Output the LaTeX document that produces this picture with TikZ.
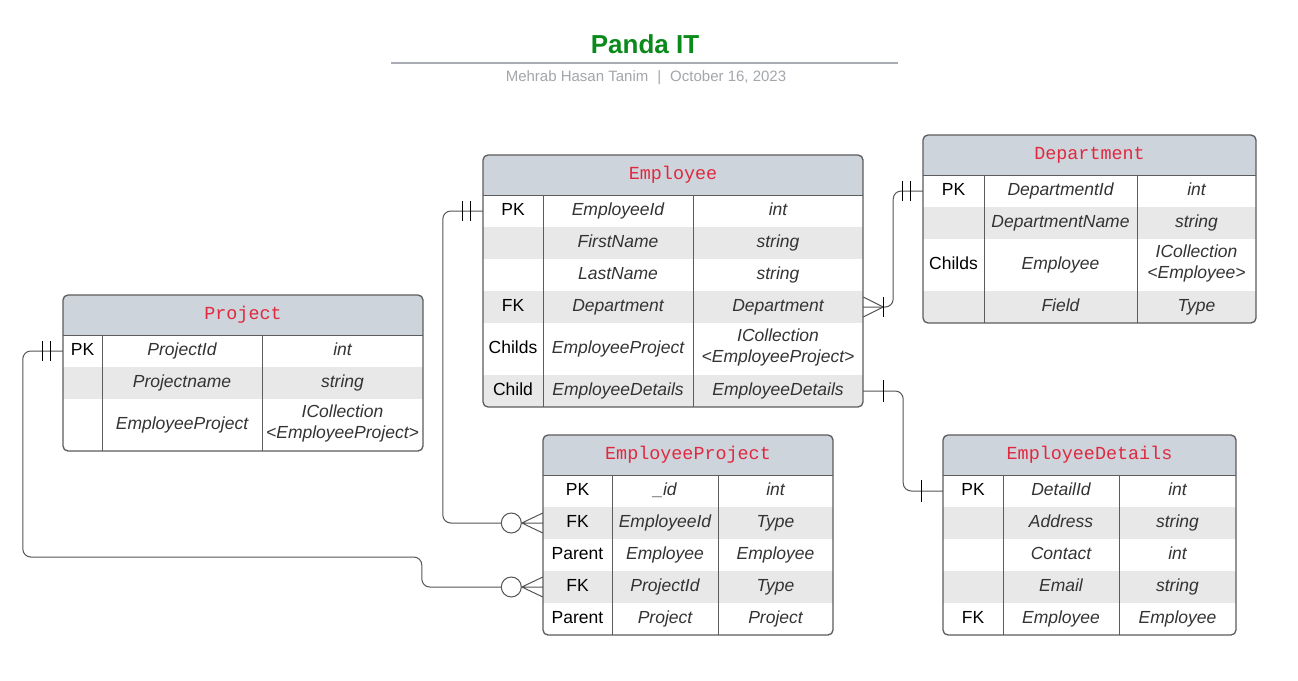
\documentclass[tikz,border=0pt]{standalone}
\usepackage{fontspec}
\setmainfont{Liberation Sans}
\setmonofont{Liberation Mono}
\usetikzlibrary{positioning}

\definecolor{hdrfill}{HTML}{CED4DC}
\definecolor{rowgray}{HTML}{E8E8E8}
\definecolor{frameclr}{HTML}{5C5C5C}
\definecolor{ttlred}{HTML}{E0283E}
\definecolor{titlegreen}{HTML}{0B8A1C}
\definecolor{subgray}{HTML}{A3A6AB}
\definecolor{rulegray}{HTML}{A9ADB3}
\definecolor{fldtxt}{HTML}{333333}
\definecolor{relclr}{HTML}{555555}

\newcommand{\cellfont}{\fontsize{17.5}{21}\selectfont}

\begin{document}
\begin{tikzpicture}[
    x=1pt, y=-1pt,
    tbl/.style={draw=frameclr, line width=1.3pt, rounded corners=5pt},
    grid/.style={draw=frameclr, line width=1pt},
    ttl/.style={font=\ttfamily\fontsize{18.4}{20}\selectfont, text=ttlred},
    cell/.style 2 args={minimum width=#1, minimum height=#2, inner sep=0pt, align=center, font=\cellfont,
        execute at begin node=\strut, execute at end node=\strut},
    keyc/.style={text=black},
    fldc/.style={text=fldtxt, font=\cellfont\itshape},
    rel/.style={draw=relclr, line width=1pt, rounded corners=8pt},
    crow/.style={draw=relclr, line width=1pt},
    bar/.style={draw=black, line width=1pt},
    zero/.style={circle, draw=relclr, fill=white, line width=1pt, minimum size=20pt, inner sep=0pt}
]
    \fill[white] (0,0) rectangle (1298,680);
    \useasboundingbox (0,0) rectangle (1298,680);

    % title block
    \node[font=\bfseries\fontsize{26}{30}\selectfont, text=titlegreen] (title) at (645,44) {Panda IT};
    \draw[draw=rulegray, line width=2pt] (391,63) -- (898,63);
    \node[font=\fontsize{15}{18}\selectfont, text=subgray] (byline) at (646,78) {Mehrab Hasan Tanim\hspace{9pt}|\hspace{9pt}October 16, 2023};

    % Employee
    \begin{scope}
        \clip[rounded corners=5pt] (483,155) rectangle (863,407);
        \fill[hdrfill] (483,155) rectangle (863,195);
        \foreach \y/\h/\sh/\ky/\fd/\tp [count=\i] in {
            211/32/white/PK/EmployeeId/int,
            243/32/rowgray//FirstName/string,
            275/32/white//LastName/string,
            307/32/rowgray/FK/Department/Department,
            349/52/white/Childs/EmployeeProject/{ICollection\\<EmployeeProject>},
            391/32/rowgray/Child/EmployeeDetails/EmployeeDetails} {
            \node[cell={60}{\h}, fill=\sh, keyc] (emp-k\i) at (513,\y) {\ky};
            \node[cell={150}{\h}, fill=\sh, fldc] (emp-f\i) at (618,\y) {\fd};
            \node[cell={170}{\h}, fill=\sh, fldc] (emp-t\i) at (778,\y) {\tp};
        }
    \end{scope}
    \draw[tbl] (483,155) rectangle (863,407);
    \draw[grid] (483,195) -- (863,195) (543,195) -- (543,407) (693,195) -- (693,407);
    \node[ttl] (emp) at (673,175) {Employee};

    % Department
    \begin{scope}
        \clip[rounded corners=5pt] (923,135) rectangle (1256,323);
        \fill[hdrfill] (923,135) rectangle (1256,175);
        \foreach \y/\h/\sh/\ky/\fd/\tp [count=\i] in {
            191/32/white/PK/DepartmentId/int,
            223/32/rowgray//DepartmentName/string,
            265/52/white/Childs/Employee/{ICollection\\<Employee>},
            307/32/rowgray//Field/Type} {
            \node[cell={61}{\h}, fill=\sh, keyc] (dep-k\i) at (953.5,\y) {\ky};
            \node[cell={153}{\h}, fill=\sh, fldc] (dep-f\i) at (1060.5,\y) {\fd};
            \node[cell={119}{\h}, fill=\sh, fldc] (dep-t\i) at (1196.5,\y) {\tp};
        }
    \end{scope}
    \draw[tbl] (923,135) rectangle (1256,323);
    \draw[grid] (923,175) -- (1256,175) (984,175) -- (984,323) (1137,175) -- (1137,323);
    \node[ttl] (dep) at (1089.5,155) {Department};

    % Project
    \begin{scope}
        \clip[rounded corners=5pt] (63,295) rectangle (423,451);
        \fill[hdrfill] (63,295) rectangle (423,335);
        \foreach \y/\h/\sh/\ky/\fd/\tp [count=\i] in {
            351/32/white/PK/ProjectId/int,
            383/32/rowgray//Projectname/string,
            425/52/white//EmployeeProject/{ICollection\\<EmployeeProject>}} {
            \node[cell={39}{\h}, fill=\sh, keyc] (prj-k\i) at (82.5,\y) {\ky};
            \node[cell={160}{\h}, fill=\sh, fldc] (prj-f\i) at (182,\y) {\fd};
            \node[cell={161}{\h}, fill=\sh, fldc] (prj-t\i) at (342.5,\y) {\tp};
        }
    \end{scope}
    \draw[tbl] (63,295) rectangle (423,451);
    \draw[grid] (63,335) -- (423,335) (102,335) -- (102,451) (262,335) -- (262,451);
    \node[ttl] (prj) at (243,315) {Project};

    % EmployeeProject
    \begin{scope}
        \clip[rounded corners=5pt] (543,435) rectangle (833,635);
        \fill[hdrfill] (543,435) rectangle (833,475);
        \foreach \y/\h/\sh/\ky/\fd/\tp [count=\i] in {
            491/32/white/PK/\_id/int,
            523/32/rowgray/FK/EmployeeId/Type,
            555/32/white/Parent/Employee/Employee,
            587/32/rowgray/FK/ProjectId/Type,
            619/32/white/Parent/Project/Project} {
            \node[cell={69}{\h}, fill=\sh, keyc] (eprj-k\i) at (577.5,\y) {\ky};
            \node[cell={106}{\h}, fill=\sh, fldc] (eprj-f\i) at (665,\y) {\fd};
            \node[cell={115}{\h}, fill=\sh, fldc] (eprj-t\i) at (775.5,\y) {\tp};
        }
    \end{scope}
    \draw[tbl] (543,435) rectangle (833,635);
    \draw[grid] (543,475) -- (833,475) (612,475) -- (612,635) (718,475) -- (718,635);
    \node[ttl] (eprj) at (688,455) {EmployeeProject};

    % EmployeeDetails
    \begin{scope}
        \clip[rounded corners=5pt] (943,435) rectangle (1236,635);
        \fill[hdrfill] (943,435) rectangle (1236,475);
        \foreach \y/\h/\sh/\ky/\fd/\tp [count=\i] in {
            491/32/white/PK/DetailId/int,
            523/32/rowgray//Address/string,
            555/32/white//Contact/int,
            587/32/rowgray//Email/string,
            619/32/white/FK/Employee/Employee} {
            \node[cell={60}{\h}, fill=\sh, keyc] (edt-k\i) at (973,\y) {\ky};
            \node[cell={116}{\h}, fill=\sh, fldc] (edt-f\i) at (1061,\y) {\fd};
            \node[cell={117}{\h}, fill=\sh, fldc] (edt-t\i) at (1177.5,\y) {\tp};
        }
    \end{scope}
    \draw[tbl] (943,435) rectangle (1236,635);
    \draw[grid] (943,475) -- (1236,475) (1003,475) -- (1003,635) (1119,475) -- (1119,635);
    \node[ttl] (edt) at (1089.5,455) {EmployeeDetails};

    % Employee -> EmployeeProject (one to zero-or-many)
    \node[zero, left=21pt of eprj-k2.west] (eprj-o2) {};
    \draw[rel] (emp-k1.west) -- ++(-40,0) |- (eprj-o2.west);
    \draw[bar] ([xshift=-12pt]emp-k1.west) ++(0,-10) -- ++(0,20);
    \draw[bar] ([xshift=-20pt]emp-k1.west) ++(0,-10) -- ++(0,20);
    \draw[crow] (eprj-o2.east) -- ([yshift=10pt]eprj-k2.west)
                (eprj-o2.east) -- (eprj-k2.west)
                (eprj-o2.east) -- ([yshift=-10pt]eprj-k2.west);

    % Project -> EmployeeProject (one to zero-or-many)
    \node[zero, left=21pt of eprj-k4.west] (eprj-o4) {};
    \draw[rel] (prj-k1.west) -- ++(-40,0) |- ([xshift=-79pt, yshift=30pt]eprj-o4.west) |- (eprj-o4.west);
    \draw[bar] ([xshift=-12pt]prj-k1.west) ++(0,-10) -- ++(0,20);
    \draw[bar] ([xshift=-20pt]prj-k1.west) ++(0,-10) -- ++(0,20);
    \draw[crow] (eprj-o4.east) -- ([yshift=10pt]eprj-k4.west)
                (eprj-o4.east) -- (eprj-k4.west)
                (eprj-o4.east) -- ([yshift=-10pt]eprj-k4.west);

    % Employee -> Department (one-or-many to one)
    \draw[rel] (emp-t4.east) -- ++(30,0) |- (dep-k1.west);
    \draw[crow] ([xshift=20pt]emp-t4.east) -- ([yshift=10pt]emp-t4.east)
                ([xshift=20pt]emp-t4.east) -- ([yshift=-10pt]emp-t4.east);
    \draw[bar] ([xshift=20pt]emp-t4.east) ++(0,-10) -- ++(0,20);
    \draw[bar] ([xshift=-12pt]dep-k1.west) ++(0,-10) -- ++(0,20);
    \draw[bar] ([xshift=-20pt]dep-k1.west) ++(0,-10) -- ++(0,20);

    % Employee -> EmployeeDetails (one to one)
    \draw[rel] (emp-t6.east) -- ++(40,0) |- (edt-k1.west);
    \draw[bar] ([xshift=20pt]emp-t6.east) ++(0,-11) -- ++(0,22);
    \draw[bar] ([xshift=-21pt]edt-k1.west) ++(0,-11) -- ++(0,22);
\end{tikzpicture}
\end{document}
